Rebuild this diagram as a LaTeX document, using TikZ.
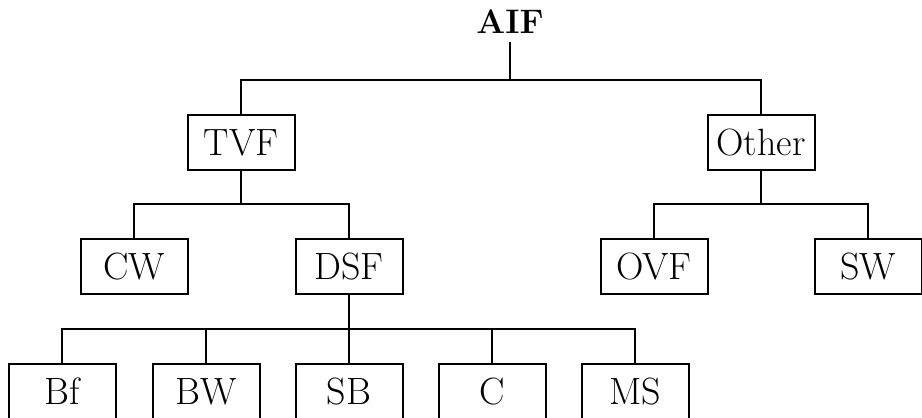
\documentclass[tikz,border=0pt]{standalone}
\usepackage{amsmath}
\usepackage{tikz}
\usetikzlibrary{calc}

\tikzset{
  catbox/.style={draw, rectangle, line width=2pt, minimum width=107pt, minimum height=55pt,
    inner sep=0pt, text height=26pt, text depth=0pt, font=\fontsize{38}{42}\selectfont},
  topname/.style={inner sep=0pt, outer sep=9pt, text height=24pt, text depth=0pt,
    font=\fontsize{34}{38}\selectfont\bfseries},
  wire/.style={line width=1.8pt, line join=miter}
}

\begin{document}
\begin{tikzpicture}[x=1pt,y=-1pt]
\useasboundingbox[fill=white] (0.000000, 0.000000) rectangle (922.000000, 418.000000);
% Drawing boxes
% Level 0: AIF
\node[topname] (aif) at (510.000000, 21.000000) {AIF};
% Level 1: TVF Other
\node[catbox] (tvf) at (241.000000, 142.500000) {TVF};
\node[catbox] (other) at (761.000000, 142.500000) {Other};
% Level 2: CW DSF OVF SW
\node[catbox] (cw) at (134.000000, 266.500000) {CW};
\node[catbox] (dsf) at (349.000000, 266.500000) {DSF};
\node[catbox] (ovf) at (654.000000, 266.500000) {OVF};
\node[catbox] (sw) at (868.000000, 266.500000) {SW};
% Level 3: Bf BW SB C MS
\node[catbox] (bf) at (62.000000, 391.500000) {Bf};
\node[catbox] (bw) at (206.000000, 391.500000) {BW};
\node[catbox] (sb) at (349.000000, 391.500000) {SB};
\node[catbox] (c) at (492.000000, 391.500000) {C};
\node[catbox] (ms) at (635.000000, 391.500000) {MS};
% Done with boxes; drawing buses
\coordinate (busaif) at (510.000000, 80.000000);
\coordinate (bustvf) at (241.000000, 204.000000);
\coordinate (busother) at (761.000000, 204.000000);
\coordinate (busdsf) at (349.000000, 329.000000);
% AIF -> TVF Other
\draw[wire] (aif.south) -- (busaif);
\draw[wire] (tvf.north) |- (busaif) -| (other.north);
% TVF -> CW DSF
\draw[wire] (tvf.south) -- (bustvf);
\draw[wire] (cw.north) |- (bustvf) -| (dsf.north);
% Other -> OVF SW
\draw[wire] (other.south) -- (busother);
\draw[wire] (ovf.north) |- (busother) -| (sw.north);
% DSF -> Bf BW SB C MS
\draw[wire] (dsf.south) -- (sb.north);
\draw[wire] (bf.north) |- (busdsf) -| (ms.north);
\draw[wire] (bw.north) -- (bw.north |- busdsf);
\draw[wire] (c.north) -- (c.north |- busdsf);
% Done with buses
\end{tikzpicture}
\end{document}
